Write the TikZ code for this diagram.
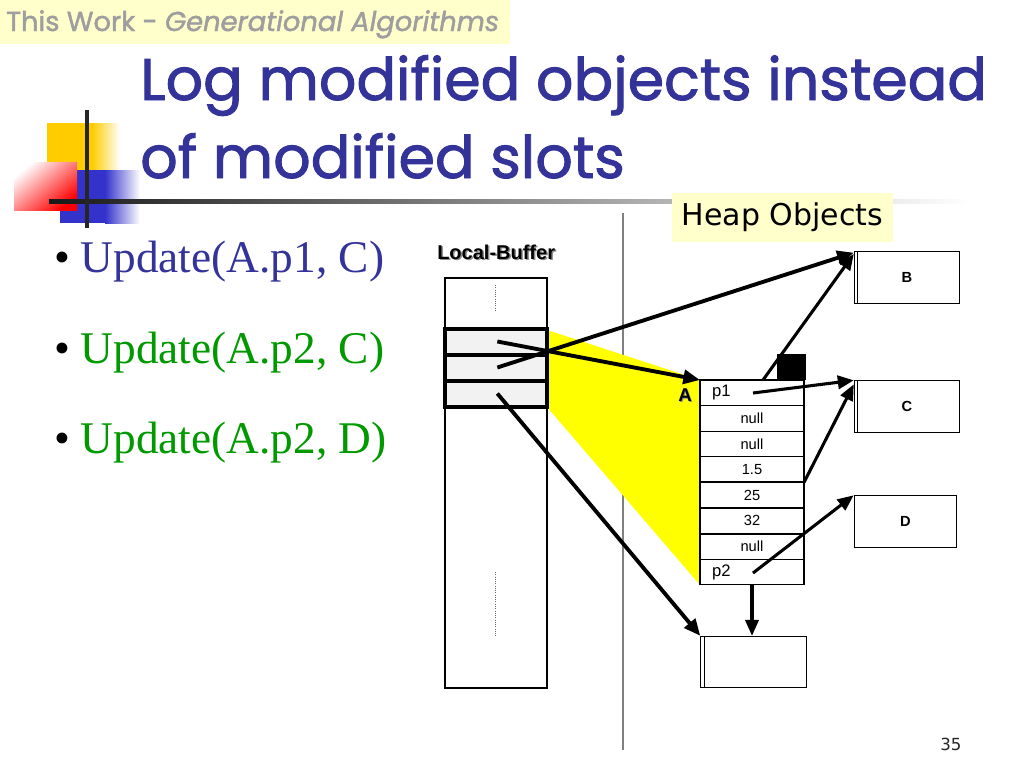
\documentclass[tikz,border=0pt]{standalone}
\usepackage{fontspec}
\setmainfont{Liberation Serif}
\newfontfamily\comic{Poppins}[FakeBold=1.6]
\newfontfamily\arial{Liberation Sans}
\newfontfamily\tahoma{DejaVu Sans}
\usetikzlibrary{arrows.meta}
\definecolor{titleblue}{HTML}{333399}
\definecolor{bulgreen}{HTML}{009900}
\definecolor{paleyellow}{HTML}{FFFFCC}
\definecolor{hlyellow}{HTML}{FFFF00}
\definecolor{gold}{HTML}{FFCC00}
\definecolor{decoblue}{HTML}{3333CC}
\begin{document}
\begin{tikzpicture}[x=0.75pt,y=-0.75pt,
  arr/.style={line width=2.3pt,-{Triangle[length=12pt,width=10pt]}},
  thickarr/.style={line width=2.9pt,-{Triangle[length=12.5pt,width=10.5pt]}},
  cell/.style={draw,line width=0.8pt,minimum width=78pt,minimum height=19.2pt,inner sep=0pt,outer sep=0pt,fill=white,font=\arial\fontsize{11}{11}\selectfont},
  pcell/.style={cell,text width=78pt,align=left,font=\arial\fontsize{12.5}{12.5}\selectfont},
  bufcell/.style={draw,line width=3pt,minimum width=76.5pt,minimum height=19.5pt,inner sep=0pt,fill=gray!10},
  objbox/.style={draw,line width=0.8pt,minimum width=79pt,minimum height=38.5pt,inner sep=0pt,fill=white,font=\arial\bfseries\fontsize{11}{11}\selectfont},
  bullet/.style={anchor=base west,font=\fontsize{34}{34}\selectfont},
  titletext/.style={anchor=base west,text=titleblue,font=\comic\fontsize{44}{44}\selectfont,inner sep=0pt},
]
\useasboundingbox (0,0) rectangle (1024,768);
\fill[white] (0,0) rectangle (1024,768);

% header
\fill[paleyellow] (0,0) rectangle (510,44);
\node[anchor=base west,inner sep=0pt,text=black!38,font=\comic\fontsize{20.5}{20.5}\selectfont] (hdr) at (6,31) {This Work - \itshape Generational Algorithms};

% decoration
\fill[gold] (47,123) rectangle (92,170);
\shade[left color=gold,right color=white] (92,123) rectangle (120,170);
\fill[decoblue] (60,170) rectangle (105,223);
\shade[left color=decoblue,right color=white] (105,170) rectangle (140,223);
\shade[left color=white,right color=red,shading angle=40] (14,162) rectangle (77,210);
\shade[left color=black!90,right color=white] (49,199) rectangle (970,203.5);
\draw[line width=2.5pt,black!85] (87,110) -- (87,228);

% title
\node[titletext] (t1) at (140,100) {Log modified objects instead};
\node[titletext] (t2) at (140,178) {of modified slots};

% bullets
\node[bullet] (b1) at (50,272) {\textbullet};
\node[bullet,text=titleblue] (u1) at (76,272) {Update(A.p1, C)};
\node[bullet] (b2) at (50,363) {\textbullet};
\node[bullet,text=bulgreen] (u2) at (76,363) {Update(A.p2, C)};
\node[bullet] (b3) at (50,453) {\textbullet};
\node[bullet,text=bulgreen] (u3) at (76,453) {Update(A.p2, D)};

% separator
\draw[line width=1.3pt,black!50] (623,213) -- (623,750);

% heap objects label
\node[fill=paleyellow,minimum width=166pt,minimum height=37pt,inner sep=0pt,font=\tahoma\fontsize{22.5}{22.5}\selectfont] (heap) at (782.5,217.5) {Heap Objects};

% local buffer
\node[font=\arial\bfseries\fontsize{15}{15}\selectfont,text=black!45,anchor=base west,inner sep=0pt] at (438.5,260) {Local-Buffer};
\node[font=\arial\bfseries\fontsize{15}{15}\selectfont,anchor=base west,inner sep=0pt] (lbl) at (437,259) {Local-Buffer};
\draw[line width=0.9pt] (445,278) rectangle (547,688);
\draw[densely dotted,line width=0.7pt,black!60] (495,285) -- (495,311);
\draw[densely dotted,line width=0.7pt,black!60] (495,572) -- (495,636);

% yellow projection
\fill[hlyellow] (547,330) -- (700,380) -- (700,585) -- (547,407) -- cycle;

% buffer cells
\node[bufcell] (bc1) at (496,341.5) {};
\node[bufcell] (bc2) at (496,367.5) {};
\node[bufcell] (bc3) at (496,393.5) {};

% object A
\node[pcell] (a1) at (752,392.8) {\hspace*{9pt}p1};
\node[cell] (a2) at (752,418.4) {null};
\node[cell] (a3) at (752,444.0) {null};
\node[cell] (a4) at (752,469.6) {1.5};
\node[cell] (a5) at (752,495.2) {25};
\node[cell] (a6) at (752,520.8) {32};
\node[cell] (a7) at (752,546.4) {null};
\node[pcell] (a8) at (752,572.0) {\hspace*{9pt}p2};
\draw[line width=1.6pt] (a4.south west) -- (a4.south east);
\draw[line width=1.6pt] (a6.south west) -- (a6.south east);
\node[fill=black,minimum width=21.5pt,minimum height=19.5pt,inner sep=0pt] (mark) at (791.5,367) {};
\node[font=\arial\bfseries\fontsize{14}{14}\selectfont,text=black!45,inner sep=0pt] at (686,396) {A};
\node[font=\arial\bfseries\fontsize{14}{14}\selectfont,inner sep=0pt] (alab) at (685,395) {A};

% heap objects
\node[objbox] (B) at (907,277.5) {B};
\draw[line width=0.7pt] ([xshift=3pt]B.north west) -- ([xshift=3pt]B.south west);
\node[objbox] (C) at (907,406.5) {C};
\draw[line width=0.7pt] ([xshift=3pt]C.north west) -- ([xshift=3pt]C.south west);
\node[objbox,minimum width=77pt] (D) at (905.5,521.5) {D};
\node[objbox] (E) at (753.5,662) {};
\draw[line width=0.7pt] ([xshift=3pt]E.north west) -- ([xshift=3pt]E.south west);

% connectors
\coordinate (s1) at ([xshift=1pt]bc1.center);
\coordinate (s2) at ([xshift=1pt]bc2.center);
\coordinate (s3) at ([xshift=1pt]bc3.center);
\draw[thickarr] (s1) -- (a1.north west);
\draw[thickarr] (s2) -- ([yshift=-1pt]B.north west);
\draw[thickarr] (s3) -- (E.north west);
\coordinate (atop) at (763,380);
\draw[arr] (atop) -- ([yshift=-2pt]B.north west);
\coordinate (p1s) at (753,393);
\draw[arr] (p1s) -- (C.north west);
\draw[arr] (a4.south east) -- ([yshift=-3pt]C.north west);
\coordinate (p2s) at (753,573);
\draw[arr] (p2s) -- (D.north west);
\draw[arr] (a8.south) -- (a8.south |- E.north);

% page number
\node[font=\tahoma\fontsize{12.5}{12.5}\selectfont,text=black!85,anchor=base west,inner sep=0pt] (pg) at (940,750) {35};
\end{tikzpicture}
\end{document}
